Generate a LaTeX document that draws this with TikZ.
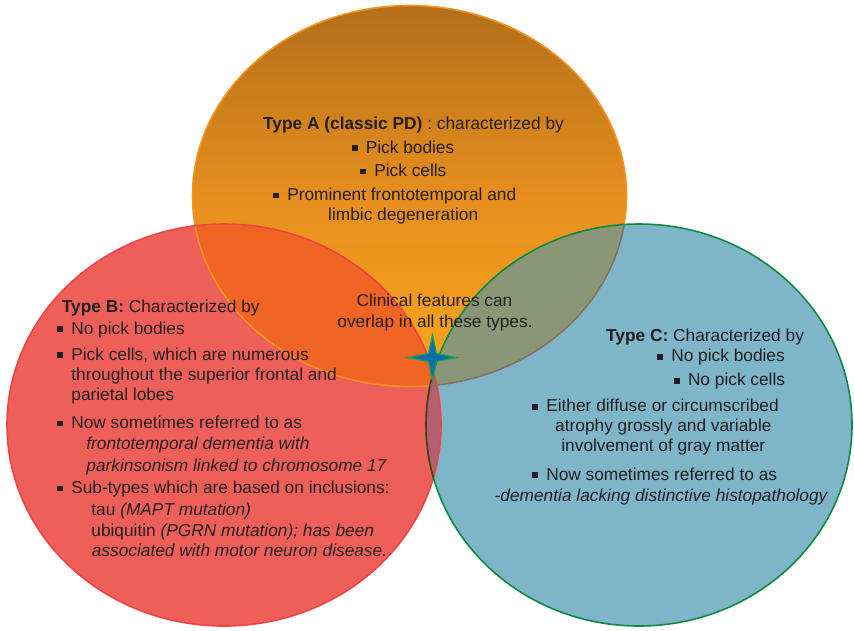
\documentclass[tikz,border=0pt]{standalone}
\usepackage{fontspec}
\setmainfont{Liberation Sans}
\usepackage{tikz}

\definecolor{inkgray}{HTML}{231F20}
\definecolor{atop}{HTML}{B36F1A}
\definecolor{amid}{HTML}{E68E1E}
\definecolor{abot}{HTML}{FAA61C}
\definecolor{arim}{HTML}{F7921E}
\definecolor{bfill}{HTML}{EF5F59}
\definecolor{brim}{HTML}{EE4444}
\definecolor{cfill}{HTML}{7EB5C8}
\definecolor{crim}{HTML}{0E8A43}
\definecolor{abfill}{HTML}{F06524}
\definecolor{acfill}{HTML}{8B9677}
\definecolor{bcfill}{HTML}{B2606E}
\definecolor{starblue}{HTML}{0B6DB0}
\definecolor{stargreen}{HTML}{1BA24C}

\newcommand{\sqbul}{\rule[2.2pt]{5.6pt}{5.6pt}\hspace{8.3pt}}
\def\circA{(409.5,196) ellipse [x radius=217pt, y radius=190.5pt]}
\def\circB{(224,425) ellipse [x radius=217pt, y radius=201pt]}
\def\circC{(639,425) ellipse [x radius=213pt, y radius=201pt]}

\begin{document}
\begin{tikzpicture}[
		x=1pt, y=-1pt
		,font=\fontsize{17.3}{20}\selectfont
		,txt/.style={anchor=base west, inner sep=0pt, text=inkgray}
		,mid/.style={anchor=base, inner sep=0pt, text=inkgray}
		,rim/.style={line width=1.6pt}
	]
		\useasboundingbox (0,0) rectangle (854,630);

		% the three types
		\shade[top color=atop, bottom color=abot, middle color=amid] \circA;
		\fill[bfill] \circB;
		\fill[cfill] \circC;

		% overlaps
		\begin{scope}
			\clip \circA;
			\fill[abfill] \circB;
			\fill[acfill] \circC;
		\end{scope}
		\begin{scope}
			\clip \circB;
			\fill[bcfill] \circC;
		\end{scope}

		\draw[rim, arim] \circA;
		\draw[rim, brim] \circB;
		\draw[rim, crim] \circC;
		\begin{scope}
			\clip \circB;
			\draw[rim, black!55!brown] \circC;
		\end{scope}
		\begin{scope}
			\clip \circC;
			\draw[rim, gray!90!black] \circA;
		\end{scope}

		% star where all three meet
		\coordinate (star) at (432.5,357.5);
		\draw[fill=starblue, draw=stargreen, line width=1.2pt, shift={(star)}]
			(0,-22.5) -- (4,-4) -- (24,0) -- (4,4) -- (0,23.5)
			-- (-4,4) -- (-25,0) -- (-4,-4) -- cycle;

		% type A
		\node[txt] (a0) at (263,129) {\textbf{Type A (classic PD)} : characterized by};
		\node[txt] (a1) at (351.7,153) {\sqbul Pick bodies};
		\node[txt] (a2) at (360.2,176.5) {\sqbul Pick cells};
		\node[txt] (a3) at (273.2,200.5) {\sqbul Prominent frontotemporal and};
		\node[txt] (a4) at (328,220.5) {limbic degeneration};

		% type B
		\node[txt] (b0) at (61.7,312.7) {\textbf{Type B:} Characterized by};
		\node[txt] (b1) at (57.2,334) {\sqbul No pick bodies};
		\node[txt] (b2) at (57.2,360) {\sqbul Pick cells, which are numerous};
		\node[txt] (b3) at (71.2,380.7) {throughout the superior frontal and};
		\node[txt] (b4) at (71.2,400.5) {parietal lobes};
		\node[txt] (b5) at (57.2,428.5) {\sqbul Now sometimes referred to as};
		\node[txt] (b6) at (86.2,449.5) {\textit{frontotemporal dementia with}};
		\node[txt] (b7) at (86.2,471.5) {\textit{parkinsonism linked to chromosome 17}};
		\node[txt] (b8) at (57.2,493.5) {\sqbul Sub-types which are based on inclusions:};
		\node[txt] (b9) at (91.2,515) {tau \textit{(MAPT mutation)}};
		\node[txt] (b10) at (91.2,536) {ubiquitin \textit{(PGRN mutation); has been}};
		\node[txt] (b11) at (91.7,556.7) {\textit{associated with motor neuron disease.}};

		% overlap note
		\node[mid] (m0) at (434.5,306.7) {Clinical features can};
		\node[mid] (m1) at (435,327.2) {overlap in all these types.};

		% type C
		\node[txt] (c0) at (606,341.7) {\textbf{Type C:} Characterized by};
		\node[txt] (c1) at (657.2,361.7) {\sqbul No pick bodies};
		\node[txt] (c2) at (673.9,385.7) {\sqbul No pick cells};
		\node[txt] (c3) at (532.2,411.7) {\sqbul Either diffuse or circumscribed};
		\node[txt] (c4) at (555,431.7) {atrophy grossly and variable};
		\node[txt] (c5) at (561.2,451.7) {involvement of gray matter};
		\node[txt] (c6) at (532.2,480.2) {\sqbul Now sometimes referred to as};
		\node[txt, anchor=base east] (c7) at (828.5,501.7) {\textit{-dementia lacking distinctive histopathology}};
	\end{tikzpicture}
\end{document}
